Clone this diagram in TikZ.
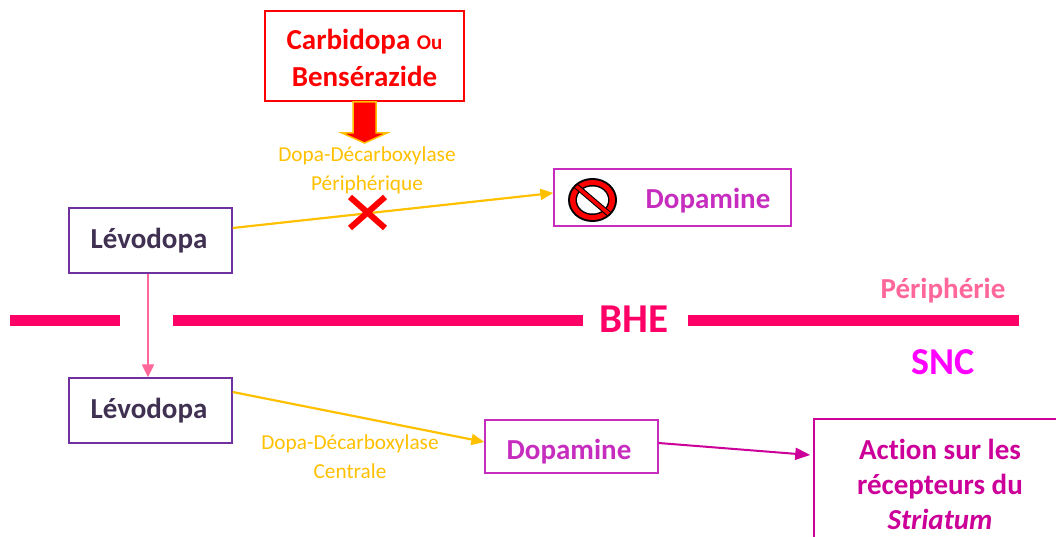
\documentclass[tikz,border=0pt]{standalone}
\usepackage{fontspec}
\setmainfont{Carlito}[Ligatures=NoCommon]
\usetikzlibrary{arrows.meta,calc}
\definecolor{purp}{HTML}{7030A0}
\definecolor{darktxt}{HTML}{403152}
\definecolor{mag}{HTML}{C62DBE}
\definecolor{deepmag}{HTML}{CC0099}
\definecolor{gold}{HTML}{FFC000}
\definecolor{barpink}{HTML}{FF0066}
\definecolor{softpink}{HTML}{FF6699}
\definecolor{brightmag}{HTML}{FF00FF}
\newcommand{\txtat}[3]{\makebox[0pt]{\raisebox{#2}[0pt][0pt]{\hspace*{#1}#3}}}
\tikzset{
  lev/.style={draw=purp,line width=1.3pt,minimum width=163pt,minimum height=65pt,inner sep=0pt,text=darktxt,font=\fontsize{29}{32}\selectfont\bfseries},
  dopa/.style={draw=mag,line width=1.3pt,inner sep=0pt,text=mag,font=\fontsize{29}{32}\selectfont\bfseries},
  enz/.style={text=gold,font=\fontsize{21.3}{29}\selectfont,align=center,inner sep=0pt},
  bar/.style={line width=11pt,barpink},
  goldarrow/.style={gold,line width=2.2pt,-{Triangle[length=13pt,width=11pt]}},
  lab/.style={inner sep=0pt,font=\bfseries}
}
\begin{document}
\begin{tikzpicture}[x=1pt,y=-1pt]
\useasboundingbox (0,0) rectangle (1056,537);
\clip (0,0) rectangle (1056,537);
\node[draw=red,line width=1.5pt,minimum width=199pt,minimum height=90pt,inner sep=0pt,text=red,align=center,font=\fontsize{29}{37}\selectfont\bfseries] (carb) at (364.5,56) {\rule{0pt}{24pt}Carbidopa {\fontsize{21}{37}\selectfont Ou}\\Bensérazide};
\node[lev] (lev1) at (150.5,240.5) {\txtat{-3pt}{-8pt}{Lévodopa}};
\node[lev] (lev2) at (150.5,410.5) {\txtat{-3pt}{-8pt}{Lévodopa}};
\node[dopa,minimum width=237pt,minimum height=57pt] (dop1) at (672.5,197.5) {};
\node[text=mag,inner sep=0pt,font=\fontsize{29}{32}\selectfont\bfseries] (dop1t) at (708,201) {Dopamine};
\node[dopa,minimum width=173pt,minimum height=53pt] (dop2) at (571.5,446.5) {\txtat{-5pt}{-13pt}{Dopamine}};
\node[draw=deepmag,line width=1.5pt,minimum width=252pt,minimum height=130pt,inner sep=0pt,text=deepmag,align=center,font=\fontsize{29}{35}\selectfont\bfseries] (act) at (940,484) {Action sur les\\récepteurs du\\\textit{Striatum}};
\node[enz] (enz1) at (367,170.5) {Dopa-Décarboxylase\\Périphérique};
\node[enz] (enz2) at (350,457) {Dopa-Décarboxylase\\Centrale};
% block arrow
\fill[red,draw=gold,line width=1.5pt,line join=miter] (353,102) -- (376,102) -- (376,133) -- (387,133) -- (364.5,143) -- (342,133) -- (353,133) -- cycle;
% connectors
\draw[goldarrow] ([yshift=12.5pt]lev1.east) -- ([yshift=4.5pt]dop1.west);
\draw[goldarrow] ([yshift=18.5pt]lev2.east) -- ([yshift=4.5pt]dop2.west);
\draw[softpink,line width=2pt,-{Triangle[length=13pt,width=12pt]}] (lev1.south) ++(-2.5,0) coordinate (p1) -- (p1 |- lev2.north);
\draw[deepmag,line width=2pt,-{Triangle[length=15pt,width=12pt]}] ([yshift=3.5pt]dop2.east) -- ([yshift=29pt,xshift=-3pt]act.west);
% cross
\draw[red,line width=6pt] (350,197) -- (385,228) (350,228) -- (385,197);
% prohibition sign
\coordinate (no) at (592.5,200);
\fill[black] (no) ellipse [x radius=24.5pt,y radius=22pt];
\fill[red] (no) ellipse [x radius=22.5pt,y radius=20pt];
\fill[black] (no) ellipse [x radius=17pt,y radius=15pt];
\fill[white] (no) ellipse [x radius=15.5pt,y radius=13.5pt];
\begin{scope}[shift={(no)}]
\fill[black] (-19,-12.5) -- (-15,-16.5) -- (19,12.5) -- (15,16.5) -- cycle;
\fill[red] (-17.5,-12.5) -- (-15,-15) -- (17.5,12.5) -- (15,15) -- cycle;
\end{scope}
% BHE bar
\node[lab,text=barpink,font=\fontsize{41}{44}\selectfont\bfseries] (bhe) at (634,319) {BHE};
\coordinate (b0) at (10,320);
\coordinate (b1) at (120,320);
\coordinate (b2) at (173,320);
\coordinate (b3) at (583,320);
\coordinate (b4) at (688,320);
\coordinate (b5) at (1019,320);
\draw[bar] (b0) -- (b1) (b2) -- (b3) (b4) -- (b5);
\node[lab,text=softpink,font=\fontsize{29}{32}\selectfont\bfseries] (peri) at (943,291) {Périphérie};
\node[lab,text=brightmag,font=\fontsize{38}{40}\selectfont\bfseries] (snc) at (943,362) {SNC};
\end{tikzpicture}
\end{document}
